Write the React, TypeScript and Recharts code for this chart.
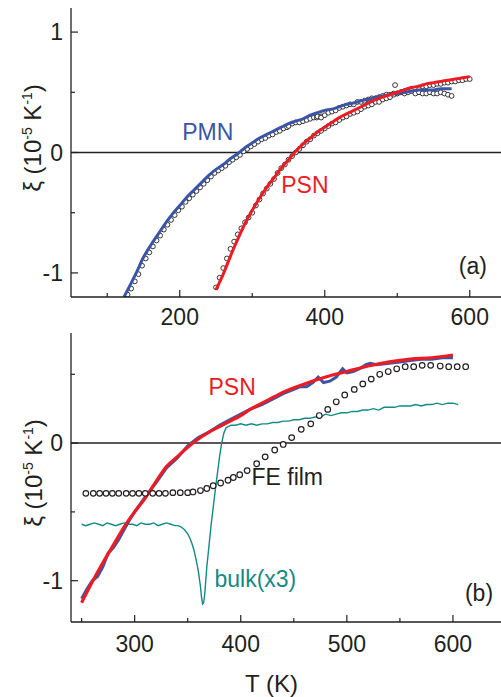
import React from 'react';
import { ComposedChart, Line, XAxis, YAxis, ReferenceLine, ReferenceDot } from 'recharts';

const FONT = '"Liberation Sans", Arial, Helvetica, sans-serif';
const INK = '#231f20';
const BLUE = '#3b55a6';
const RED = '#ec1c24';
const TEAL = '#148a85';

// ---------- Panel (a) ----------
const aXTicks = [100, 200, 300, 400, 500, 600];
const aXMajor = [200, 400, 600];
const aYTicks = [-1, -0.5, 0, 0.5, 1];
const aYMajor = [-1, 0, 1];

const pmnFitT = [123, 130, 140, 150, 160, 170, 180, 190, 200, 210, 220, 230, 240, 250, 260, 270, 280, 290, 300, 310, 320, 330, 340, 350, 360, 370, 380, 390, 400, 410, 420, 430, 440, 450, 460, 470, 480, 490, 500, 510, 520, 530, 540, 550, 560, 570, 575];
const pmnFitV = [-1.2, -1.12, -1.0, -0.87, -0.77, -0.68, -0.59, -0.51, -0.44, -0.37, -0.31, -0.25, -0.19, -0.14, -0.1, -0.05, -0.01, 0.04, 0.08, 0.12, 0.15, 0.18, 0.21, 0.24, 0.26, 0.28, 0.31, 0.33, 0.35, 0.36, 0.38, 0.4, 0.41, 0.43, 0.44, 0.46, 0.47, 0.48, 0.49, 0.5, 0.51, 0.52, 0.52, 0.52, 0.53, 0.53, 0.53];

const pmnDataT = [128, 133, 138, 143, 148, 153, 158, 163, 168, 173, 178, 183, 188, 193, 198, 203, 208, 213, 218, 223, 228, 233, 238, 243, 248, 253, 258, 263, 268, 273, 278, 283, 288, 293, 298, 303, 308, 313, 318, 323, 328, 333, 338, 343, 348, 350, 355, 360, 365, 370, 375, 380, 385, 389, 390, 395, 395, 400, 405, 410, 415, 420, 425, 430, 435, 440, 445, 450, 455, 460, 465, 470, 475, 480, 485, 490, 495, 500, 505, 510, 515, 520, 525, 530, 535, 540, 545, 550, 555, 560, 565, 570, 575];
const pmnDataV = [-1.18, -1.13, -1.07, -1.01, -0.94, -0.88, -0.83, -0.78, -0.73, -0.69, -0.64, -0.6, -0.56, -0.52, -0.48, -0.45, -0.41, -0.38, -0.35, -0.32, -0.29, -0.26, -0.23, -0.2, -0.17, -0.15, -0.13, -0.11, -0.08, -0.06, -0.04, -0.02, 0.01, 0.03, 0.05, 0.07, 0.09, 0.11, 0.12, 0.14, 0.15, 0.17, 0.18, 0.2, 0.21, 0.22, 0.24, 0.25, 0.25, 0.26, 0.27, 0.28, 0.29, 0.29, 0.3, 0.3, 0.29, 0.31, 0.33, 0.34, 0.35, 0.37, 0.38, 0.39, 0.4, 0.4, 0.42, 0.42, 0.43, 0.44, 0.45, 0.45, 0.46, 0.47, 0.48, 0.48, 0.49, 0.49, 0.5, 0.49, 0.5, 0.51, 0.49, 0.5, 0.49, 0.49, 0.5, 0.49, 0.49, 0.5, 0.49, 0.48, 0.47];

const psnFitT = [250, 260, 270, 280, 290, 300, 310, 320, 330, 340, 350, 360, 370, 380, 390, 400, 410, 420, 430, 440, 450, 460, 470, 480, 490, 500, 510, 520, 530, 540, 550, 560, 570, 580, 590, 600];
const psnFitV = [-1.14, -1.01, -0.86, -0.72, -0.59, -0.48, -0.38, -0.29, -0.21, -0.13, -0.06, 0.01, 0.07, 0.12, 0.17, 0.21, 0.25, 0.29, 0.32, 0.35, 0.38, 0.41, 0.44, 0.46, 0.48, 0.5, 0.52, 0.54, 0.55, 0.57, 0.58, 0.59, 0.6, 0.61, 0.62, 0.63];

const psnDataT = [250, 255, 260, 265, 270, 275, 280, 285, 290, 295, 300, 305, 310, 315, 320, 325, 330, 335, 340, 345, 350, 355, 360, 365, 370, 375, 380, 385, 390, 395, 400, 405, 410, 415, 420, 425, 430, 435, 440, 445, 450, 455, 460, 465, 470, 475, 480, 485, 490, 495, 497, 500, 505, 510, 515, 520, 525, 530, 535, 540, 545, 550, 555, 560, 565, 570, 575, 580, 585, 590, 595, 600];
const psnDataV = [-1.12, -1.04, -0.96, -0.88, -0.8, -0.74, -0.68, -0.63, -0.58, -0.54, -0.5, -0.44, -0.39, -0.34, -0.3, -0.26, -0.22, -0.17, -0.13, -0.1, -0.06, -0.03, 0.0, 0.03, 0.06, 0.09, 0.11, 0.14, 0.16, 0.18, 0.2, 0.22, 0.24, 0.25, 0.27, 0.29, 0.3, 0.32, 0.33, 0.34, 0.36, 0.38, 0.39, 0.4, 0.42, 0.42, 0.44, 0.45, 0.46, 0.48, 0.56, 0.49, 0.5, 0.51, 0.52, 0.53, 0.53, 0.54, 0.55, 0.55, 0.56, 0.56, 0.57, 0.57, 0.58, 0.58, 0.59, 0.59, 0.6, 0.6, 0.61, 0.61];

// ---------- Panel (b) ----------
const bXTicks = [250, 300, 350, 400, 450, 500, 550, 600];
const bXMajor = [300, 400, 500, 600];
const bYTicks = [-1, -0.5, 0, 0.5];
const bYMajor = [-1, 0];

const psnBT = [250, 260, 270, 280, 290, 300, 310, 320, 330, 340, 350, 360, 370, 380, 390, 400, 410, 420, 430, 440, 460, 480, 500, 520, 540, 560, 580, 600];
const psnBV = [-1.16, -1.01, -0.87, -0.74, -0.61, -0.5, -0.4, -0.28, -0.17, -0.1, -0.03, 0.03, 0.08, 0.12, 0.16, 0.2, 0.25, 0.29, 0.33, 0.37, 0.43, 0.48, 0.52, 0.56, 0.59, 0.61, 0.62, 0.64];

const psnRawT = [250, 255, 260, 265, 270, 275, 280, 285, 290, 295, 300, 310, 320, 330, 340, 350, 355, 360, 370, 380, 390, 400, 410, 420, 430, 440, 450, 456, 462, 468, 473, 478, 484, 490, 496, 500, 506, 512, 518, 522, 528, 540, 550, 560, 570, 580, 590, 600];
const psnRawV = [-1.13, -1.06, -1.0, -0.97, -0.9, -0.8, -0.76, -0.7, -0.63, -0.56, -0.5, -0.39, -0.29, -0.18, -0.11, -0.02, 0.01, 0.04, 0.08, 0.13, 0.17, 0.21, 0.25, 0.28, 0.32, 0.36, 0.39, 0.41, 0.41, 0.44, 0.48, 0.44, 0.45, 0.48, 0.54, 0.51, 0.52, 0.54, 0.57, 0.58, 0.57, 0.58, 0.59, 0.6, 0.61, 0.61, 0.62, 0.62];

const filmT = [254, 261, 267, 273, 279, 285, 292, 298, 304, 310, 317, 323, 329, 336, 343, 350, 355, 362, 368, 374, 381, 388, 393, 399, 406, 415, 423, 432, 440, 448, 457, 466, 474, 482, 490, 498, 507, 515, 523, 531, 539, 547, 555, 563, 571, 579, 588, 596, 604, 612];
const filmV = [-0.365, -0.365, -0.365, -0.365, -0.365, -0.365, -0.365, -0.365, -0.365, -0.365, -0.365, -0.365, -0.365, -0.36, -0.36, -0.36, -0.355, -0.345, -0.33, -0.31, -0.29, -0.27, -0.25, -0.23, -0.2, -0.15, -0.1, -0.05, -0.01, 0.04, 0.1, 0.14, 0.2, 0.245, 0.3, 0.35, 0.39, 0.43, 0.465, 0.5, 0.52, 0.54, 0.555, 0.555, 0.565, 0.565, 0.56, 0.555, 0.555, 0.555];

const bulkT = [250, 254, 258, 262, 266, 270, 274, 278, 282, 286, 290, 294, 298, 302, 306, 310, 314, 318, 322, 326, 330, 334, 338, 341, 344, 347, 350, 352, 354, 356, 358, 360, 362, 363, 364, 365, 366, 367, 368, 370, 372, 374, 376, 378, 380, 382, 384, 386, 388, 391, 395, 400, 405, 410, 415, 420, 425, 430, 435, 440, 445, 450, 455, 460, 465, 470, 475, 480, 485, 490, 495, 500, 505, 510, 515, 520, 525, 530, 535, 540, 545, 550, 555, 560, 565, 570, 575, 580, 585, 590, 595, 600, 605];
const bulkV = [-0.59, -0.6, -0.59, -0.58, -0.59, -0.6, -0.58, -0.59, -0.6, -0.59, -0.58, -0.59, -0.59, -0.6, -0.58, -0.59, -0.59, -0.58, -0.6, -0.59, -0.58, -0.59, -0.6, -0.6, -0.61, -0.63, -0.66, -0.69, -0.73, -0.78, -0.85, -0.93, -1.04, -1.12, -1.17, -1.16, -1.1, -1.0, -0.9, -0.75, -0.6, -0.47, -0.34, -0.22, -0.1, 0.0, 0.07, 0.11, 0.12, 0.13, 0.13, 0.14, 0.13, 0.14, 0.13, 0.14, 0.14, 0.15, 0.15, 0.16, 0.16, 0.17, 0.17, 0.18, 0.18, 0.19, 0.19, 0.21, 0.2, 0.21, 0.22, 0.22, 0.23, 0.23, 0.24, 0.24, 0.25, 0.24, 0.26, 0.26, 0.26, 0.27, 0.27, 0.27, 0.28, 0.27, 0.28, 0.28, 0.29, 0.28, 0.29, 0.29, 0.28];

const rows = (ts: number[], vs: number[]) => ts.map((t, i) => ({ T: t, v: vs[i] }));

const makeXTick = (major: number[], top: boolean, labelDy: number) => (props: any) => {
  const { x, y, payload } = props;
  const isMajor = major.includes(payload.value);
  const len = isMajor ? 7 : 4;
  return (
    <g>
      <line x1={x} y1={y} x2={x} y2={top ? y + len : y - len} stroke={INK} strokeWidth={1.2} />
      {!top && isMajor && (
        <text x={x} y={y + labelDy} textAnchor="middle" fontSize={23} fontFamily={FONT} fill={INK}>
          {payload.value}
        </text>
      )}
    </g>
  );
};

const makeYTick = (major: number[]) => (props: any) => {
  const { x, y, payload } = props;
  const isMajor = major.some((m) => Math.abs(m - payload.value) < 1e-9);
  const len = isMajor ? 7 : 4;
  return (
    <g>
      <line x1={x} y1={y} x2={x + len} y2={y} stroke={INK} strokeWidth={1.2} />
      {isMajor && (
        <text x={x - 8} y={y + 8} textAnchor="end" fontSize={23} fontFamily={FONT} fill={INK}>
          {String(payload.value)}
        </text>
      )}
    </g>
  );
};

const openCircle = (r: number, sw: number) => (p: any) => (
  <circle key={p.key ?? `${p.cx}-${p.cy}`} cx={p.cx} cy={p.cy} r={r} fill="#ffffff" stroke={INK} strokeWidth={sw} />
);

const note = (text: string, color: string) => (p: any) => (
  <text x={p.cx} y={p.cy} textAnchor="start" fontSize={23} fontFamily={FONT} fill={color}>
    {text}
  </text>
);

const axisLine = { stroke: INK, strokeWidth: 1.3 };

function FrameA({ bare, children }: { bare: boolean; children?: React.ReactNode }) {
  return (
    <ComposedChart width={520} height={340} margin={{ top: 8, right: 14, bottom: 13, left: 11 }}>
      <XAxis dataKey="T" type="number" domain={[50, 650]} ticks={aXTicks} interval={0} allowDataOverflow
        height={30} tickSize={0} tickMargin={0} tickLine={false} axisLine={bare ? false : axisLine}
        tick={bare ? false : makeXTick(aXMajor, false, 28)} />
      <XAxis xAxisId="top" orientation="top" dataKey="T" type="number" domain={[50, 650]} ticks={aXTicks} interval={0}
        allowDataOverflow height={0} tickSize={0} tickMargin={0} tickLine={false} axisLine={bare ? false : axisLine}
        tick={bare ? false : makeXTick(aXMajor, true, 0)} />
      <YAxis dataKey="v" type="number" domain={[-1.2, 1.2]} ticks={aYTicks} interval={0} allowDataOverflow
        width={60} tickSize={0} tickMargin={0} tickLine={false} axisLine={bare ? false : axisLine}
        tick={bare ? false : makeYTick(aYMajor)} />
      {children}
    </ComposedChart>
  );
}

function PanelAData() {
  return (
    <FrameA bare>
      <ReferenceLine y={0} stroke={INK} strokeWidth={1.5} />
      <Line data={rows(pmnDataT, pmnDataV)} dataKey="v" stroke="none" dot={openCircle(2.4, 0.9)} activeDot={false} isAnimationActive={false} />
      <Line data={rows(psnDataT, psnDataV)} dataKey="v" stroke="none" dot={openCircle(2.4, 0.9)} activeDot={false} isAnimationActive={false} />
    </FrameA>
  );
}

function PanelAFits() {
  return (
    <FrameA bare={false}>
      <Line data={rows(pmnFitT, pmnFitV)} dataKey="v" type="monotone" stroke={BLUE} strokeWidth={3} dot={false} activeDot={false} isAnimationActive={false} />
      <Line data={rows(psnFitT, psnFitV)} dataKey="v" type="monotone" stroke={RED} strokeWidth={3} dot={false} activeDot={false} isAnimationActive={false} />
      <ReferenceDot x={203.4} y={0.104} r={0} shape={note('PMN', BLUE)} />
      <ReferenceDot x={340} y={-0.336} r={0} shape={note('PSN', RED)} />
      <ReferenceDot x={584.8} y={-1.005} r={0} shape={note('(a)', INK)} />
    </FrameA>
  );
}

function PanelB() {
  return (
    <ComposedChart width={520} height={397} margin={{ top: 33, right: 14, bottom: 45, left: 11 }}>
      <XAxis dataKey="T" type="number" domain={[240, 650]} ticks={bXTicks} interval={0} allowDataOverflow
        height={30} tickSize={0} tickMargin={0} tickLine={false} axisLine={axisLine}
        tick={makeXTick(bXMajor, false, 30)} />
      <XAxis xAxisId="top" orientation="top" dataKey="T" type="number" domain={[240, 650]} ticks={bXTicks} interval={0}
        allowDataOverflow height={0} tickSize={0} tickMargin={0} tickLine={false} axisLine={axisLine}
        tick={makeXTick(bXMajor, true, 0)} />
      <YAxis dataKey="v" type="number" domain={[-1.3, 0.8]} ticks={bYTicks} interval={0} allowDataOverflow
        width={60} tickSize={0} tickMargin={0} tickLine={false} axisLine={axisLine} tick={makeYTick(bYMajor)} />
      <ReferenceLine y={0} stroke={INK} strokeWidth={1.5} />
      <Line data={rows(bulkT, bulkV)} dataKey="v" type="linear" stroke={TEAL} strokeWidth={1.4} dot={false} activeDot={false} isAnimationActive={false} />
      <Line data={rows(filmT, filmV)} dataKey="v" stroke="none" dot={openCircle(2.8, 1.2)} activeDot={false} isAnimationActive={false} />
      <Line data={rows(psnRawT, psnRawV)} dataKey="v" type="linear" stroke={BLUE} strokeWidth={3} dot={false} activeDot={false} isAnimationActive={false} />
      <Line data={rows(psnBT, psnBV)} dataKey="v" type="monotone" stroke={RED} strokeWidth={3.2} dot={false} activeDot={false} isAnimationActive={false} />
      <ReferenceDot x={369.6} y={0.349} r={0} shape={note('PSN', RED)} />
      <ReferenceDot x={410.1} y={-0.305} r={0} shape={note('FE film', INK)} />
      <ReferenceDot x={375.2} y={-1.046} r={0} shape={note('bulk(x3)', TEAL)} />
      <ReferenceDot x={611.3} y={-1.144} r={0} shape={note('(b)', INK)} />
    </ComposedChart>
  );
}

function YTitle({ x, cy }: { x: number; cy: number }) {
  return (
    <text transform={`rotate(-90 ${x} ${cy})`} x={x} y={cy} textAnchor="middle" fontSize={24} fontFamily={FONT} fill={INK}>
      ξ (10
      <tspan dy={-9} fontSize={14}>-5</tspan>
      <tspan dy={9}> K</tspan>
      <tspan dy={-9} fontSize={14}>-1</tspan>
      <tspan dy={9}>)</tspan>
    </text>
  );
}

export default function App() {
  return (
    <div style={{ position: 'absolute', left: 0, top: 0, width: 501, height: 697, overflow: 'hidden', background: '#ffffff' }}>
      <div style={{ position: 'absolute', left: 0, top: 0 }}>
        <PanelAData />
      </div>
      <div style={{ position: 'absolute', left: 0, top: 0 }}>
        <PanelAFits />
      </div>
      <div style={{ position: 'absolute', left: 0, top: 300 }}>
        <PanelB />
      </div>
      <svg width={501} height={697} style={{ position: 'absolute', left: 0, top: 0, pointerEvents: 'none' }}>
        <YTitle x={41} cy={138} />
        <YTitle x={42} cy={473} />
        <text x={271.5} y={692} textAnchor="middle" fontSize={24} fontFamily={FONT} fill={INK}>T (K)</text>
      </svg>
    </div>
  );
}
